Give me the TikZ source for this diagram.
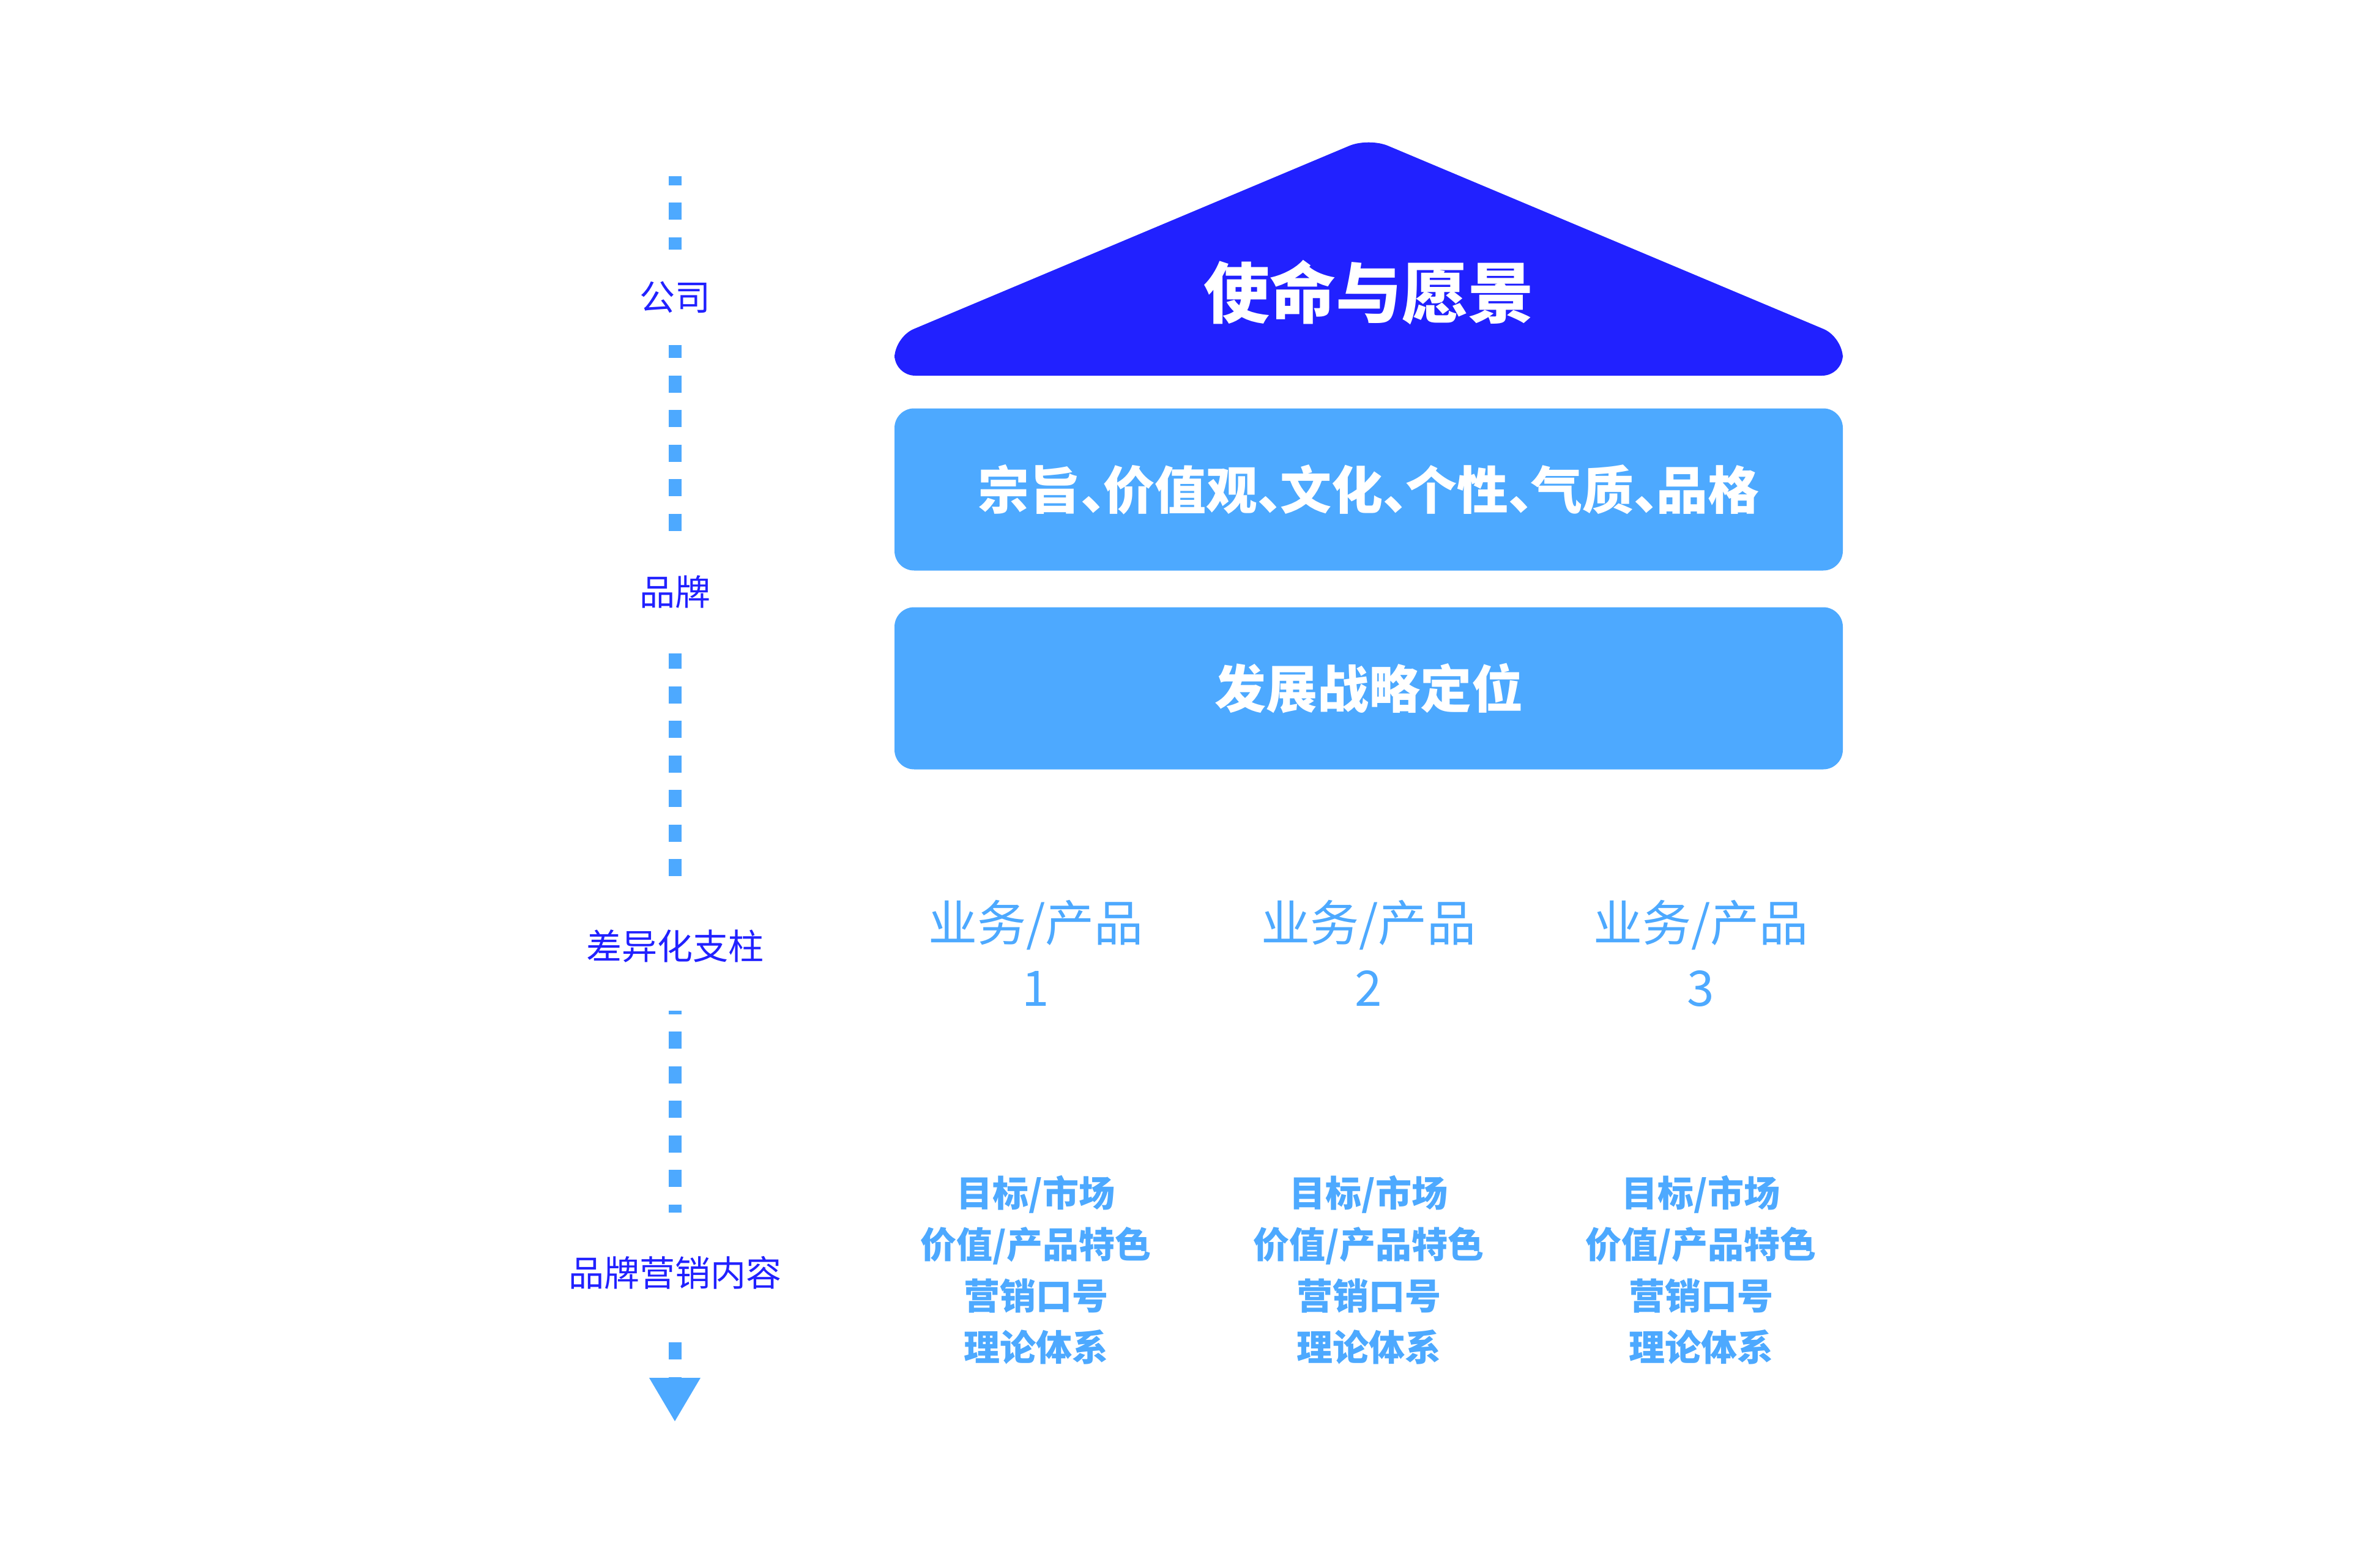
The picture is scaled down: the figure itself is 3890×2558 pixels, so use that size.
\documentclass[tikz,border=0pt]{standalone}
\usepackage{fontspec}
\setmainfont{Noto Sans CJK SC}
\definecolor{deepblue}{RGB}{33,33,255}
\definecolor{skyblue}{RGB}{77,169,255}
\newcommand{\dunhao}{、\hspace{-0.56em}}

\begin{document}
\begin{tikzpicture}[
        x=1pt, y=-1pt,
        band/.style={fill=skyblue, rounded corners=32pt, minimum width=1550pt,
          minimum height=265pt, text=white, font=\fontsize{84}{100}\selectfont\bfseries},
        pillar/.style={text=skyblue, align=center, font=\fontsize{80}{106}\selectfont},
        detail/.style={text=skyblue, align=center, font=\fontsize{59}{84}\selectfont\bfseries},
        level/.style={text=deepblue, fill=white, inner sep=0pt, minimum width=60pt,
          font=\fontsize{58}{70}\selectfont},
        guide/.style={draw=skyblue, line width=21pt, dash pattern=on 28pt off 28.45pt, dash phase=13pt}
      ]
        \useasboundingbox (0,0) rectangle (3890,2558);

        \fill[deepblue, rounded corners=34pt] (1462,614) -- (1462,551) -- (2237,225)
          -- (3012,551) -- (3012,614) -- cycle;
        \node[text=white, font=\fontsize{108}{130}\selectfont\bfseries] (mission) at (2237,478) {使命与愿景};
        \node[band] (values) at (2237,800) {宗旨\dunhao 价值观\dunhao 文化\dunhao 个性\dunhao 气质\dunhao 品格};
        \node[band] (strategy) at (2237,1125) {发展战略定位};

        \node[pillar] (biz1) at (1693,1558) {业务/产品\\1};
        \node[pillar] (biz2) at (2237,1558) {业务/产品\\2};
        \node[pillar] (biz3) at (2780,1558) {业务/产品\\3};

        \node[detail] (content1) at (1693,2076) {目标/市场\\价值/产品特色\\营销口号\\理论体系};
        \node[detail] (content2) at (2237,2076) {目标/市场\\价值/产品特色\\营销口号\\理论体系};
        \node[detail] (content3) at (2780,2076) {目标/市场\\价值/产品特色\\营销口号\\理论体系};

        \coordinate (axtop) at (1103,288);
        \coordinate (axend) at (1103,2252);
        \coordinate (axtip) at (1103,2323);
        \draw[guide] (axtop) -- (axend);
        \fill[skyblue] (axend) ++(-42,0) -- ++(84,0) -- (axtip) -- cycle;

        \node[level, minimum height=156pt] (company) at (1103,486) {公司};
        \node[level, minimum height=198pt] (brand) at (1103,969) {\raisebox{7pt}{品牌}};
        \node[level, minimum height=212pt] (pillars) at (1103,1546) {差异化支柱};
        \node[level, minimum height=198pt] (marketing) at (1103,2081) {\raisebox{6pt}{品牌营销内容}};
      \end{tikzpicture}
\end{document}
